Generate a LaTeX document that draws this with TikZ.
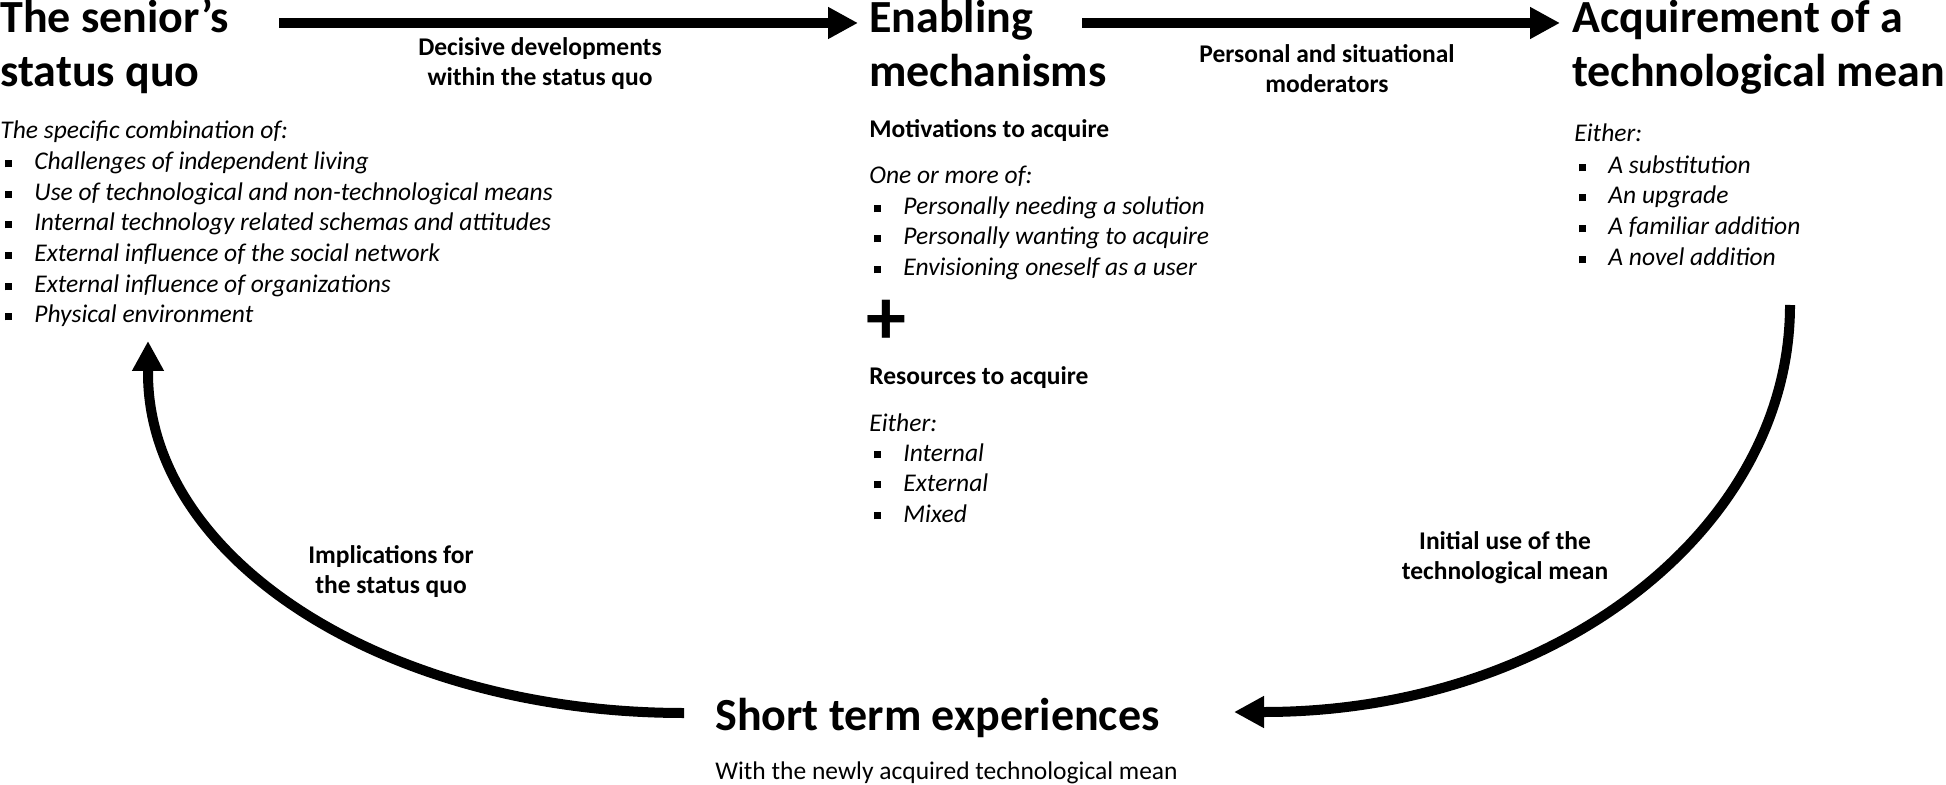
\documentclass[tikz,border=0pt]{standalone}
\usepackage{fontspec}
\setmainfont{Carlito}
\usetikzlibrary{arrows.meta}
\newcommand\bul{\makebox[17pt][l]{\hspace*{2.2pt}\rule[1.3pt]{3.6pt}{3.6pt}}}
\tikzset{
  ttl/.style={anchor=base west, inner sep=0pt, font=\fontsize{23}{27}\selectfont\bfseries},
  txt/.style={anchor=base west, inner sep=0pt, font=\fontsize{12.75}{15}\selectfont},
  itx/.style={anchor=base west, inner sep=0pt, font=\fontsize{12.75}{15}\selectfont\itshape},
  btx/.style={anchor=base west, inner sep=0pt, font=\fontsize{12.75}{15}\selectfont\bfseries},
  lbl/.style={inner sep=0pt, align=center, font=\fontsize{12.75}{15}\selectfont\bfseries},
  flow/.style={line width=5pt, -{Triangle[length=15pt,width=15pt]}},
}
\begin{document}
\begin{tikzpicture}[x=0.5pt,y=-0.5pt]
\useasboundingbox (0,0) rectangle (1946,785);
% titles
\node[ttl] (sq1) at (0,33) {The senior’s};
\node[ttl] (sq2) at (0,87) {status quo};
\node[ttl] (en1) at (869,33) {Enabling};
\node[ttl] (en2) at (869,87) {mechanisms};
\node[ttl] (ac1) at (1572,33) {Acquirement of a};
\node[ttl] (ac2) at (1572,87) {technological mean};
\node[ttl] (st1) at (715,730) {Short term experiences};
\node[txt] (st2) at (715,779) {With the newly acquired technological mean};
% left list
\node[itx] (l0) at (0,139) {The specific combination of:};
\node[itx] (l1) at (0,170) {\bul Challenges of independent living};
\node[itx] (l2) at (0,201) {\bul Use of technological and non-technological means};
\node[itx] (l3) at (0,231) {\bul Internal technology related schemas and attitudes};
\node[itx] (l4) at (0,262) {\bul External influence of the social network};
\node[itx] (l5) at (0,293) {\bul External influence of organizations};
\node[itx] (l6) at (0,323) {\bul Physical environment};
% middle list
\node[btx] (m0) at (869,138) {Motivations to acquire};
\node[itx] (m1) at (869,184) {One or more of:};
\node[itx] (m2) at (869,215) {\bul Personally needing a solution};
\node[itx] (m3) at (869,245) {\bul Personally wanting to acquire};
\node[itx] (m4) at (869,276) {\bul Envisioning oneself as a user};
\node[inner sep=0pt, font=\fontsize{40}{40}\selectfont\bfseries] (plus) at (886,322) {+};
\node[btx] (r0) at (869,385) {Resources to acquire};
\node[itx] (r1) at (869,431) {Either:};
\node[itx] (r2) at (869,461) {\bul Internal};
\node[itx] (r3) at (869,491) {\bul External};
\node[itx] (r4) at (869,522) {\bul Mixed};
% right list
\node[itx] (a0) at (1574,142) {Either:};
\node[itx] (a1) at (1574,174) {\bul A substitution};
\node[itx] (a2) at (1574,204) {\bul An upgrade};
\node[itx] (a3) at (1574,235) {\bul A familiar addition};
\node[itx] (a4) at (1574,266) {\bul A novel addition};
% connector labels
\node[lbl] (lb1) at (540,64) {Decisive developments\\within the status quo};
\node[lbl] (lb2) at (1327,69) {Personal and situational\\moderators};
\node[lbl] (lb3) at (1505,558) {Initial use of the\\technological mean};
\node[lbl] (lb4) at (391,572) {Implications for\\the status quo};
% connector ends
\coordinate (a1s) at (279,23);
\coordinate (a1e) at (858,23);
\coordinate (a2s) at (1082,23);
\coordinate (a2e) at (1560,23);
\coordinate (a3s) at (1790,305);
\coordinate (a3e) at (1234,712);
\coordinate (a4s) at (684,713);
\coordinate (a4e) at (148,341);
\draw[flow] (a1s) -- (a1e);
\draw[flow] (a2s) -- (a2e);
\draw[flow] (a3s) .. controls (1790,530) and (1554,712) .. (1264,712) -- (a3e);
\draw[flow] (a4s) .. controls (388,713) and (148,561) .. (148,373) -- (a4e);
\end{tikzpicture}
\end{document}
